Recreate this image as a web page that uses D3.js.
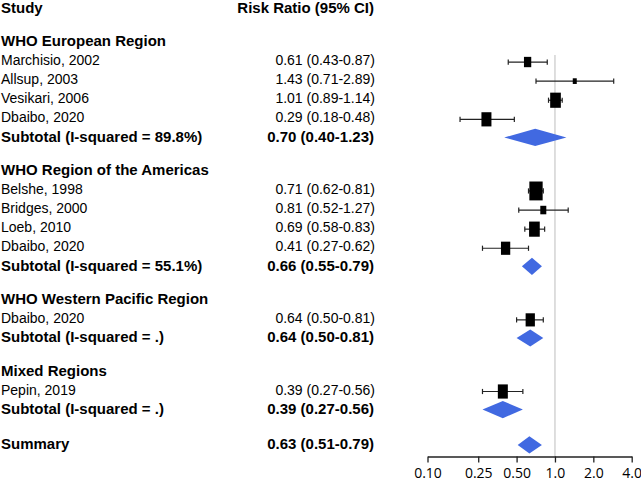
<!DOCTYPE html>
<html><head><meta charset="utf-8">
<script src="https://cdn.jsdelivr.net/npm/d3@7"></script>
<style>body{margin:0;background:#fff} svg{display:block}</style>
</head><body><svg id="chart" width="641" height="484"></svg>
<script>
// ---- data ----
const groups = ["WHO European Region","WHO Region of the Americas","WHO Western Pacific Region","Mixed Regions"];
const studies = ["Marchisio, 2002","Allsup, 2003","Vesikari, 2006","Dbaibo, 2020","Belshe, 1998","Bridges, 2000","Loeb, 2010","Dbaibo, 2020","Dbaibo, 2020","Pepin, 2019"];
const studyGroup = [0,0,0,0,1,1,1,1,2,3];
const studyRR = [0.61,1.43,1.01,0.29,0.71,0.81,0.69,0.41,0.64,0.39];
const studyLo = [0.43,0.71,0.89,0.18,0.62,0.52,0.58,0.27,0.50,0.27];
const studyHi = [0.87,2.89,1.14,0.48,0.81,1.27,0.83,0.62,0.81,0.56];
const studyWeight = [5.3,1.6,11.4,10.0,17.7,3.6,11.4,8.6,8.6,10.0];
const subtotalI2 = ["89.8%","55.1%",".","."];
const subtotalRR = [0.70,0.66,0.64,0.39];
const subtotalLo = [0.40,0.55,0.50,0.27];
const subtotalHi = [1.23,0.79,0.81,0.56];
const summaryLabel = "Summary";
const summaryRR = [0.63];
const summaryLo = [0.51];
const summaryHi = [0.79];
const tickValues = [0.10,0.25,0.50,1.0,2.0,4.0];
const tickLabels = ["0.10","0.25","0.50","1.0","2.0","4.0"];

// ---- build rows ----
const fmt = (r,l,h) => `${r.toFixed(2)} (${l.toFixed(2)}-${h.toFixed(2)})`;
const rows = [];
let u = 0;
rows.push({type:"head", u});
groups.forEach((g, gi) => {
  u += 1.75;
  rows.push({type:"group", label:g, u});
  studies.forEach((s, i) => {
    if (studyGroup[i] !== gi) return;
    u += 1;
    rows.push({type:"study", label:s, rr:studyRR[i], lo:studyLo[i], hi:studyHi[i], w:studyWeight[i], u});
  });
  u += 1;
  rows.push({type:"sub", label:`Subtotal (I-squared = ${subtotalI2[gi]})`, rr:subtotalRR[gi], lo:subtotalLo[gi], hi:subtotalHi[gi], u});
  u -= 0; 
});
u += 1.85;
rows.push({type:"summary", label:summaryLabel, rr:summaryRR[0], lo:summaryLo[0], hi:summaryHi[0], u});

// ---- scales ----
const svg = d3.select("#chart");
const y = d3.scaleLinear().domain([0, 1]).range([7.5, 26.6]);
const x = d3.scaleLog().domain([0.1, 4]).range([427.5, 631.7]);
const size = d3.scaleSqrt().domain([0, d3.max(studyWeight)]).range([0, 13.3]);
const FONT = "'Liberation Sans', Arial, Helvetica, sans-serif";
const axisY = 456.5;

// reference line
svg.append("line").attr("x1", x(1)).attr("x2", x(1)).attr("y1", 55).attr("y2", axisY)
  .attr("stroke", "#c8c8c8").attr("stroke-width", 1.2);

// headers
svg.append("text").attr("x", 1).attr("y", y(0)).attr("dy", "0.36em")
  .attr("font-family", FONT).attr("font-size", 15).attr("font-weight", "bold").text("Study");
svg.append("text").attr("x", 374).attr("y", y(0)).attr("dy", "0.36em").attr("text-anchor", "end")
  .attr("font-family", FONT).attr("font-size", 15).attr("font-weight", "bold").text("Risk Ratio (95% CI)");

rows.forEach(r => {
  if (r.type === "head") return;
  const yy = y(r.u);
  const bold = r.type !== "study";
  svg.append("text").attr("x", 1).attr("y", yy).attr("dy", "0.36em")
    .attr("font-family", FONT).attr("font-size", bold ? 15 : 14)
    .attr("font-weight", bold ? "bold" : "normal").attr("fill", "#000").text(r.label);
  if (r.type === "group") return;
  svg.append("text").attr("x", bold ? 374 : 375).attr("y", yy).attr("dy", "0.36em").attr("text-anchor", "end")
    .attr("font-family", FONT).attr("font-size", bold ? 15 : 14)
    .attr("font-weight", bold ? "bold" : "normal").attr("fill", "#000").text(fmt(r.rr, r.lo, r.hi));
  if (r.type === "study") {
    const cy = yy + 2;
    const g = svg.append("g");
    g.append("line").attr("x1", x(r.lo)).attr("x2", x(r.hi)).attr("y1", cy).attr("y2", cy)
      .attr("stroke", "#222").attr("stroke-width", 1.2);
    [r.lo, r.hi].forEach(v => g.append("line").attr("x1", x(v)).attr("x2", x(v))
      .attr("y1", cy - 2.6).attr("y2", cy + 2.6).attr("stroke", "#222").attr("stroke-width", 1.2));
    const w = size(r.w), h = w * 1.42;
    g.append("rect").attr("x", x(r.rr) - w / 2).attr("y", cy - h / 2).attr("width", w).attr("height", h).attr("fill", "#000");
  } else {
    const cy = yy + 1, hh = 8.6;
    svg.append("path").attr("d", `M${x(r.lo)},${cy} L${x(r.rr)},${cy - hh} L${x(r.hi)},${cy} L${x(r.rr)},${cy + hh} Z`)
      .attr("fill", "#4169e1");
  }
});

// axis
const axis = d3.axisBottom(x).tickValues(tickValues).tickFormat((d, i) => tickLabels[i])
  .tickSize(6).tickSizeOuter(0).tickPadding(6);
const ag = svg.append("g").attr("transform", `translate(0,${axisY})`).call(axis);
ag.select(".domain").attr("stroke", "#222").attr("stroke-width", 1.3);
ag.selectAll(".tick line").attr("stroke", "#222").attr("stroke-width", 1.3);
ag.selectAll(".tick text").attr("font-family", "'Open Sans', sans-serif").attr("font-size", 14).attr("fill", "#000");
</script></body></html>
